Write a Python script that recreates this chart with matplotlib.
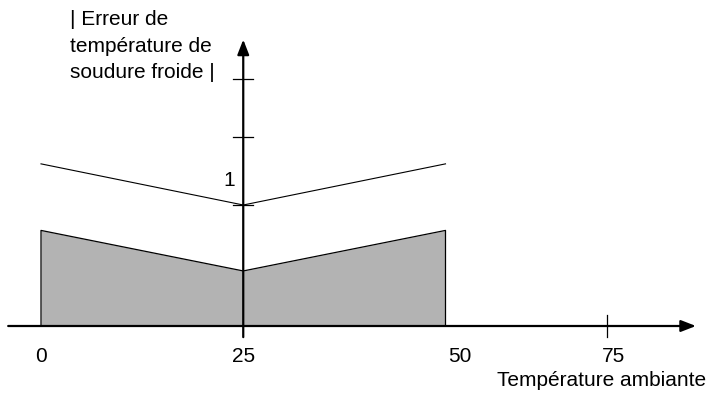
import matplotlib
matplotlib.use("Agg")
import matplotlib.pyplot as plt

plt.rcParams['font.family'] = ['Liberation Sans', 'DejaVu Sans']

# Data (schematic chart)
x_pts = [0, 25, 50]
shaded_err = [0.79, 0.455, 0.79]
upper_err = [1.34, 1.0, 1.34]
x_tick_labels = ["0", "25", "50", "75"]
x_label_pos = [0, 25, 51.8, 70.8]
x_tick_mark = [70.0]
y_tick_marks = [1.0, 1.56, 2.04]
y_tick_labels = ["1"]
y_label_pos = [1.0]

fig = plt.figure(figsize=(7.08, 3.93), dpi=100)
ax = fig.add_axes([0, 0, 1, 1])
px_x = 8.09
px_y = 121.0
ax.set_xlim(-41 / px_x, (708 - 41) / px_x)
ax.set_ylim(-(393 - 326) / px_y, 326 / px_y)
ax.axis('off')

# shaded region
ax.fill_between(x_pts, 0, shaded_err, color='#b3b3b3', lw=0)
ax.plot([x_pts[0]] + x_pts + [x_pts[-1]], [0] + shaded_err + [0], color='black', lw=0.9)
# upper line
ax.plot(x_pts, upper_err, color='black', lw=0.8)

# axes with arrows
ax.annotate('', xy=(81.3, 0), xytext=(-4.4, 0),
            arrowprops=dict(arrowstyle='-|>,head_length=0.9,head_width=0.35', color='black', lw=1.6))
ax.annotate('', xy=(25, 2.39), xytext=(25, -0.115),
            arrowprops=dict(arrowstyle='-|>,head_length=0.9,head_width=0.35', color='black', lw=1.6))

# tick marks
for t in x_tick_mark:
    ax.plot([t, t], [-0.09, 0.09], color='black', lw=0.9)
for t in y_tick_marks:
    ax.plot([25 - 1.24, 25 + 1.24], [t, t], color='black', lw=0.9)

# tick labels
fs = 15
for pos, lab in zip(x_label_pos, x_tick_labels):
    ax.text(pos, -0.25, lab, ha='center', va='center', fontsize=fs)
for pos, lab in zip(y_label_pos, y_tick_labels):
    ax.text(25 - 1.7, pos + 0.2, lab, ha='center', va='center', fontsize=fs)

ax.text(706 / 708, 1 - 380 / 393, "Température ambiante", transform=ax.transAxes,
        ha='right', va='center', fontsize=fs)
ax.text(70 / 708, 1 - 10 / 393, "| Erreur de\ntempérature de\nsoudure froide |",
        transform=ax.transAxes, ha='left', va='top', fontsize=fs, linespacing=1.5)

fig.savefig("out.png", dpi=100)
